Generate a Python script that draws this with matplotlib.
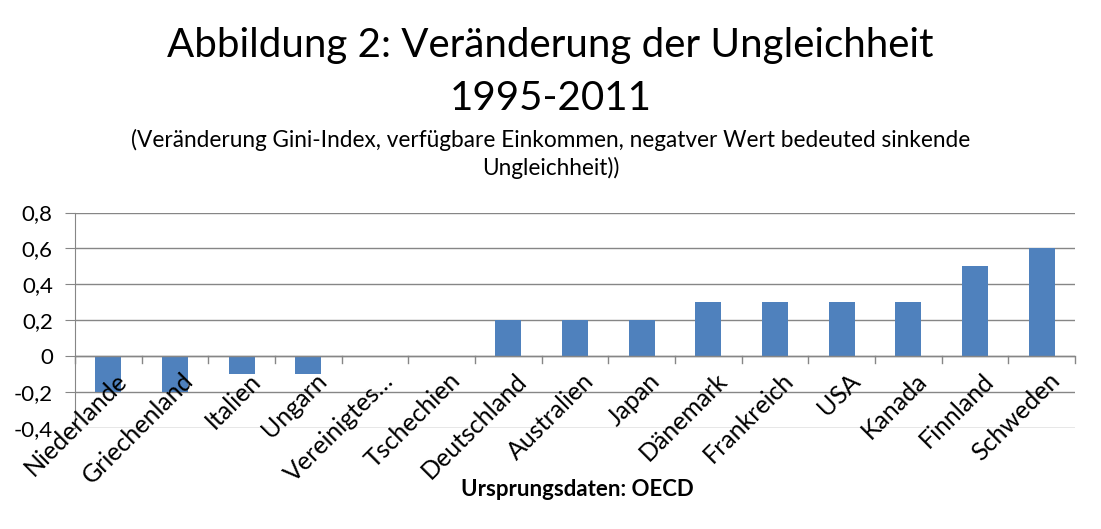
import matplotlib
matplotlib.use("Agg")
import matplotlib.pyplot as plt
import numpy as np

categories = ["Niederlande", "Griechenland", "Italien", "Ungarn", "Vereinigtes…",
              "Tschechien", "Deutschland", "Australien", "Japan", "Dänemark",
              "Frankreich", "USA", "Kanada", "Finnland", "Schweden"]
values = [-0.2, -0.2, -0.1, -0.1, 0.0, 0.0, 0.2, 0.2, 0.2, 0.3, 0.3, 0.3, 0.3, 0.5, 0.6]
yticks = [-0.4, -0.2, 0, 0.2, 0.4, 0.6, 0.8]
ytick_labels = ["-0,4", "-0,2", "0", "0,2", "0,4", "0,6", "0,8"]

plt.rcParams['font.family'] = ['Lato', 'DejaVu Sans']

W, H = 1101, 529
fig = plt.figure(figsize=(W/100, H/100), dpi=100)
ax = fig.add_axes([75/W, (H-428)/H, (1075-75)/W, (428-212.5)/H])

x = np.arange(len(categories))
ax.bar(x, values, width=0.39, color="#4F81BD", zorder=3)
ax.set_xlim(-0.5, len(categories)-0.5)
ax.set_ylim(-0.4, 0.8)
ax.set_yticks(yticks)
ax.set_yticklabels(ytick_labels, fontsize=16)
ax.yaxis.grid(True, color="#868686", linewidth=1)
ax.set_axisbelow(True)
for s in ["top", "right", "bottom"]:
    ax.spines[s].set_visible(False)
ax.spines["left"].set_color("#868686")
ax.tick_params(axis='y', length=7, color="#868686", pad=9)
ax.set_xticks([])
# horizontal axis at zero with boundary ticks
ax.axhline(0, color="#868686", linewidth=1, zorder=4)
for b in np.arange(-0.5, len(categories), 1.0):
    ax.plot([b, b], [0, -0.04], color="#868686", linewidth=1, zorder=4, clip_on=False)
for xi, lab in zip(x, categories):
    ax.text(xi + 0.1, -0.07, lab, rotation=45, ha='right', va='top',
            rotation_mode='anchor', fontsize=18, zorder=5)

fig.text(0.5, (H-45)/H, "Abbildung 2: Veränderung der Ungleichheit", ha='center', va='center', fontsize=29)
fig.text(0.5, (H-98)/H, "1995-2011", ha='center', va='center', fontsize=29)
fig.text(0.5, (H-140)/H, "(Veränderung Gini-Index, verfügbare Einkommen, negatver Wert bedeuted sinkende",
         ha='center', va='center', fontsize=16.3)
fig.text(0.5, (H-168)/H, "Ungleichheit))", ha='center', va='center', fontsize=16.3)
fig.text(577/W, (H-490)/H, "Ursprungsdaten: OECD", ha='center', va='center', fontsize=16, fontweight='bold')

fig.savefig("out.png", dpi=100)
